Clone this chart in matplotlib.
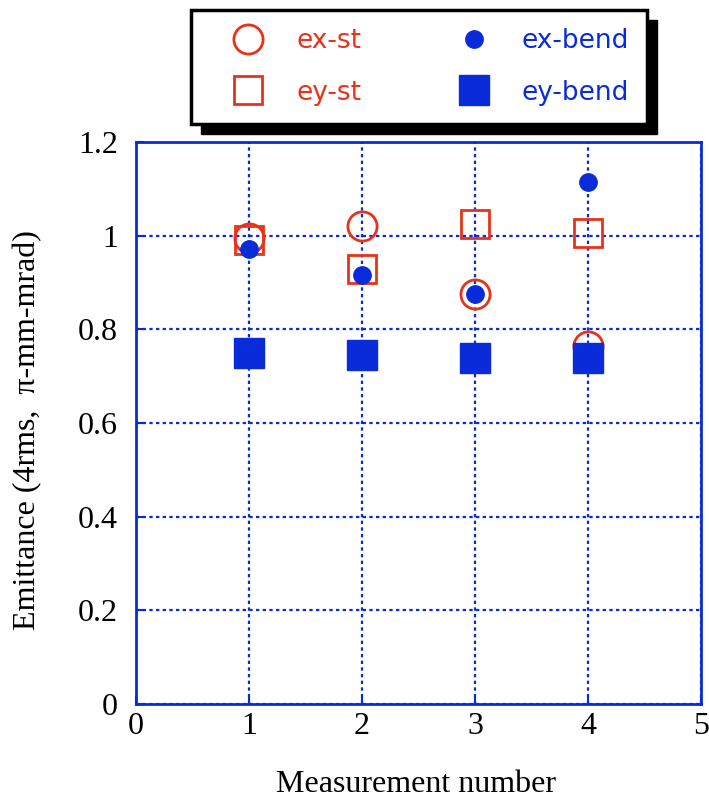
import matplotlib.pyplot as plt
from matplotlib.patches import Rectangle

# data
measurement = [1, 2, 3, 4]
ex_st = [0.995, 1.02, 0.875, 0.765]
ey_st = [0.99, 0.929, 1.025, 1.005]
ex_bend = [0.971, 0.915, 0.875, 1.115]
ey_bend = [0.749, 0.745, 0.739, 0.739]
yticks = [0, 0.2, 0.4, 0.6, 0.8, 1.0, 1.2]
ytick_labels = ['0', '0.2', '0.4', '0.6', '0.8', '1', '1.2']
xticks = [0, 1, 2, 3, 4, 5]

red = '#e8321a'
blue = '#0a2bd9'
serif = 'Liberation Serif'

fig = plt.figure(figsize=(7.09, 7.99), dpi=100)
ax = fig.add_axes([136/709, 95/799, 565/709, 562/799])

ax.plot(measurement, ex_st, 'o', ms=21, mfc='none', mec=red, mew=2, ls='none', label='ex-st')
ax.plot(measurement, ey_st, 's', ms=20, mfc='none', mec=red, mew=2, ls='none', label='ey-st')
ax.plot(measurement, ex_bend, 'o', ms=12.5, mfc=blue, mec=blue, ls='none', label='ex-bend')
ax.plot(measurement, ey_bend, 's', ms=22, mfc=blue, mec=blue, ls='none', label='ey-bend')

ax.set_xlim(0, 5)
ax.set_ylim(0, 1.2)
ax.set_xticks(xticks)
ax.set_yticks(yticks)
ax.set_yticklabels(ytick_labels)
ax.grid(True, color=blue, ls=(0, (1.5, 1.5)), lw=1.6)
ax.set_axisbelow(True)
for s in ax.spines.values():
    s.set_color(blue)
    s.set_linewidth(2)
ax.tick_params(direction='in', length=6, width=1.5, color=blue, labelsize=23)
ax.tick_params(axis='y', pad=13)
ax.tick_params(axis='x', pad=6)
for lab in ax.get_xticklabels() + ax.get_yticklabels():
    lab.set_fontfamily(serif)

ax.set_xlabel('Measurement number', fontsize=23, family=serif)
ax.set_ylabel('Emittance (4rms,  \u03c0-mm-mrad)', fontsize=23, family=serif)
ax.xaxis.set_label_coords(0.495, -0.118)
ax.yaxis.label.set_va('center')
ax.yaxis.set_label_coords(-0.192, 0.4875)

handles, labels = ax.get_legend_handles_labels()
leg = fig.legend(handles, labels, loc='upper left', bbox_to_anchor=(191/709, 1 - 10/799), ncol=2,
                 prop={'family': 'DejaVu Sans', 'size': 19}, labelcolor=[red, red, blue, blue],
                 frameon=True, fancybox=False, edgecolor='black', framealpha=1,
                 borderpad=0.7, handlelength=2.95, handletextpad=0.33,
                 columnspacing=2.8, labelspacing=0.95, borderaxespad=0)
leg.get_frame().set_linewidth(2.5)
leg.set_zorder(5)

# solid black drop shadow behind the legend box
fig.canvas.draw()
bb = leg.get_window_extent().transformed(fig.transFigure.inverted())
dx, dy = 10/709, 10/799
fig.add_artist(Rectangle((bb.x0 + dx, bb.y0 - dy), bb.width, bb.height,
                         transform=fig.transFigure, facecolor='black', edgecolor='black', zorder=4))

fig.savefig('out.png', dpi=100)
